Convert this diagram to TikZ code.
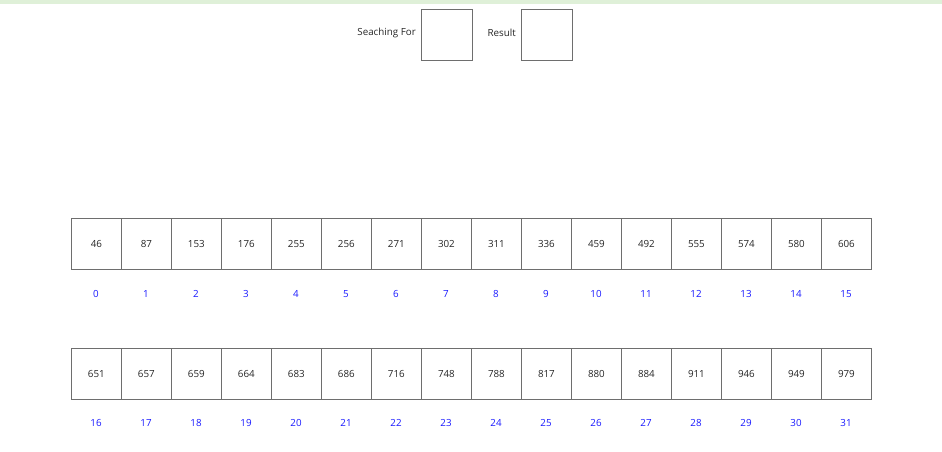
\documentclass[tikz,border=0pt]{standalone}
\usepackage{fontspec}
\setmainfont{Open Sans}
\definecolor{topbar}{HTML}{DFF0D8}
\definecolor{cellborder}{HTML}{6E6E6E}
\definecolor{idxblue}{HTML}{1A1AFF}
\begin{document}
\begin{tikzpicture}[x=1pt,y=-1pt,
  cellbox/.style={draw=cellborder,line width=0.8pt,minimum width=50pt,minimum height=51pt,inner sep=0pt,anchor=north west,font=\fontsize{9.8}{11}\selectfont,text=black!85},
  idxlabel/.style={text=idxblue,font=\fontsize{9.8}{11}\selectfont,inner sep=0pt},
  lbl/.style={font=\fontsize{9.8}{11}\selectfont,text=black!85,anchor=east,inner sep=0pt}]
\useasboundingbox (0,0) rectangle (942,451);
\fill[topbar] (0,0) rectangle (942,4);
\node[lbl] (sflabel) at (416,33) {Seaching For};
\node[cellbox,minimum width=51pt] (sfbox) at (421,8.5) {};
\node[lbl] (reslabel) at (516,33) {Result};
\node[cellbox,minimum width=51pt] (resbox) at (521,8.5) {};
\foreach \v [count=\i from 0] in {46,87,153,176,255,256,271,302,311,336,459,492,555,574,580,606} {
  \node[cellbox] (c\i) at ({71+50*\i},218) {\v};
  \node[idxlabel] (i\i) at ({96+50*\i},294) {\i};
}
\foreach \v [count=\i from 0] in {651,657,659,664,683,686,716,748,788,817,880,884,911,946,949,979} {
  \pgfmathtruncatemacro{\k}{\i+16}
  \node[cellbox] (c\k) at ({71+50*\i},348) {\v};
  \node[idxlabel] (i\k) at ({96+50*\i},423) {\k};
}
\end{tikzpicture}
\end{document}
